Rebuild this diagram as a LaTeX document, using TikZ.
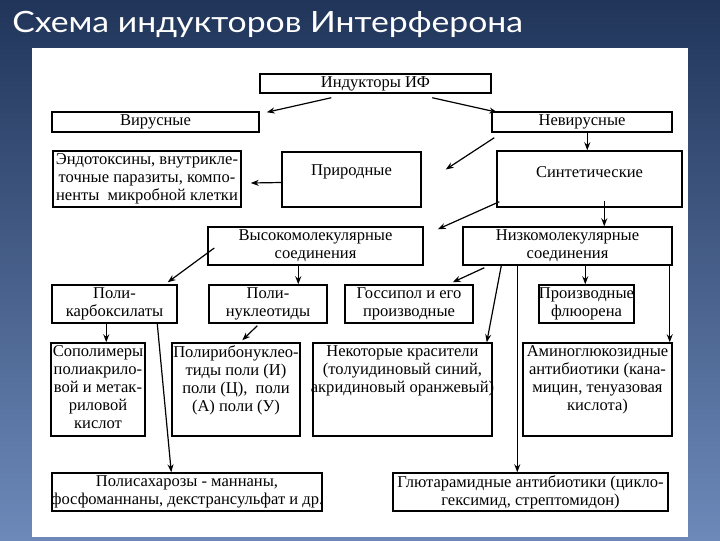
\documentclass[tikz,border=0pt]{standalone}
\usepackage{fontspec}
\setmainfont{Liberation Serif}
\newfontfamily\titlefont[FakeStretch=1.15]{Lato}
\usetikzlibrary{calc,fit,arrows.meta}

\tikzset{
  box/.style={draw=black, line width=1.1pt, fill=white, inner sep=0pt},
  lbl/.style={font=\fontsize{12.4}{13.5}\selectfont, align=center, inner sep=0pt},
  arr/.style={-{Stealth[length=6pt,width=4.5pt]}, line width=0.9pt},
}

\begin{document}
\begin{tikzpicture}[x=0.75pt, y=-0.75pt]
   \useasboundingbox (0,0) rectangle (720,540);
   \shade[top color={rgb,255:red,33;green,53;blue,90}, middle color={rgb,255:red,49;green,80;blue,127},
          bottom color={rgb,255:red,108;green,137;blue,185}] (0,0) rectangle (720,540);
   \fill[white] (32,48) rectangle (688,537);
   \node[anchor=base west, text=white, inner sep=0pt, font=\titlefont\fontsize{22}{26}\selectfont] (title) at (12,32) {Схема индукторов Интерферона};

   \node[box, fit={(260,74) (491,93)}] (ind) {};
   \node[lbl] (ind-t) at (ind) {Индукторы ИФ};
   \node[box, fit={(52,112) (259,132)}] (vir) {};
   \node[lbl] (vir-t) at (vir) {Вирусные};
   \node[box, fit={(492,112) (672,132)}] (nevir) {};
   \node[lbl] (nevir-t) at (nevir) {Невирусные};
   \node[box, fit={(53,151) (241,207)}] (endo) {};
   \node[lbl] (endo-t) at (endo) {Эндотоксины, внутрикле-\\точные паразиты, компо-\\ненты \ микробной клетки};
   \node[box, fit={(282,152) (421,207)}] (prir) {};
   \node[lbl] (prir-t) at ($(prir.north)+(0,21)$) {Природные};
   \node[box, fit={(497,151) (682,207)}] (syn) {};
   \node[lbl] (syn-t) at ($(syn.north)+(0,22)$) {Синтетические};
   \node[box, fit={(208,227) (423,265)}] (vys) {};
   \node[lbl] (vys-t) at (vys) {Высокомолекулярные\\соединения};
   \node[box, fit={(463,227) (672,265)}] (niz) {};
   \node[lbl] (niz-t) at (niz) {Низкомолекулярные\\соединения};
   \node[box, fit={(52,285) (177,323)}] (polikarb) {};
   \node[lbl] (polikarb-t) at (polikarb) {Поли-\\карбоксилаты};
   \node[box, fit={(209,285) (327,323)}] (polinukl) {};
   \node[lbl] (polinukl-t) at (polinukl) {Поли-\\нуклеотиды};
   \node[box, fit={(345,285) (473,323)}] (goss) {};
   \node[lbl] (goss-t) at (goss) {Госсипол и его\\производные};
   \node[box, fit={(539,285) (634,323)}] (fluor) {};
   \node[lbl] (fluor-t) at (fluor) {Производные\\флюорена};
   \node[box, fit={(51,343) (145,436)}] (sopol) {};
   \node[lbl, anchor=north] (sopol-t) at ($(sopol.north)+(0,3)$) {Сополимеры\\полиакрило-\\вой и метак-\\риловой\\кислот};
   \node[box, fit={(172,343) (300,436)}] (polirib) {};
   \node[lbl, anchor=north] (polirib-t) at ($(polirib.north)+(0,3)$) {Полирибонуклео-\\тиды поли (И)\\поли (Ц), \ поли\\(А) поли (У)};
   \node[box, fit={(313,343) (492,436)}] (nekot) {};
   \node[lbl, anchor=north] (nekot-t) at ($(nekot.north)+(0,3)$) {Некоторые красители\\(толуидиновый синий,\\акридиновый оранжевый)};
   \node[box, fit={(523,343) (672,436)}] (amino) {};
   \node[lbl, anchor=north] (amino-t) at ($(amino.north)+(0,3)$) {Аминоглюкозидные\\антибиотики (кана-\\мицин, тенуазовая\\кислота)};
   \node[box, fit={(52,473) (322,511)}] (polisach) {};
   \node[lbl] (polisach-t) at (polisach) {Полисахарозы - маннаны,\\фосфоманнаны, декстрансульфат и др.};
   \node[box, fit={(393,473) (668,511)}] (glut) {};
   \node[lbl] (glut-t) at (glut) {Глютарамидные антибиотики (цикло-\\гексимид, стрептомидон)};

   \draw[arr] ($(ind.south west)+(72,4)$) -- ($(vir.north east)+(7,1)$);
   \draw[arr] ($(ind.south west)+(173,4)$) -- ($(nevir.north west)+(6,1)$);
   \draw[arr] ($(nevir.south west)+(96,0)$) -- ($(syn.north west)+(91,0)$);
   \draw[arr] ($(nevir.south west)+(3,5)$) -- ($(prir.east)+(24,-10)$);
   \draw[arr] ($(prir.west)+(0,3)$) -- ($(endo.east)+(9,4)$);
   \draw[arr] ($(syn.south west)+(3,-6)$) -- ($(vys.north east)+(14,3)$);
   \draw[arr] ($(syn.south west)+(108,-7)$) -- ($(niz.north west)+(142,0)$);
   \draw[arr] ($(vys.west)+(7,2)$) -- ($(polikarb.north east)+(-10,-2)$);
   \draw[arr] ($(vys.south west)+(91,0)$) -- ($(polinukl.north west)+(90,0)$);
   \draw[arr] ($(niz.south west)+(22,2)$) -- ($(goss.north east)+(-21,-2)$);
   \draw[arr] ($(niz.south west)+(123,0)$) -- ($(fluor.north west)+(47,0)$);
   \draw[arr] ($(niz.south west)+(39,0)$) -- ($(nekot.north east)+(-6,0)$);
   \draw[arr] ($(niz.south west)+(55,0)$) -- ($(glut.north west)+(125,0)$);
   \draw[arr] ($(niz.south east)+(-3,0)$) -- ($(amino.north east)+(-3,0)$);
   \draw[arr] ($(polikarb.south west)+(55,0)$) -- ($(sopol.north west)+(56,0)$);
   \draw[arr] ($(polikarb.south west)+(106,0)$) -- ($(polisach.north west)+(120,0)$);
   \draw[arr] ($(polinukl.south west)+(49,2)$) -- ($(polirib.north west)+(71,-2)$);
\end{tikzpicture}
\end{document}
